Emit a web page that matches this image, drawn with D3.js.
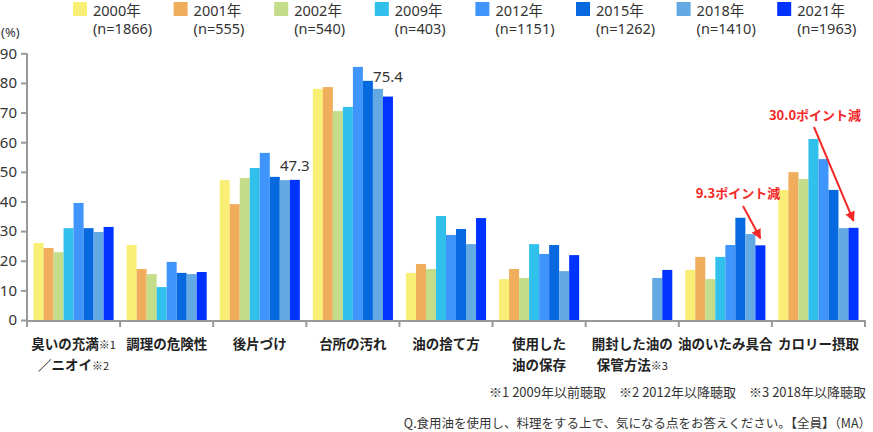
<!DOCTYPE html>
<html><head><meta charset="utf-8">
<script src="https://cdn.jsdelivr.net/npm/d3@7"></script>
<style>
html,body{margin:0;padding:0;background:#fff;}
svg{display:block;font-family:"Noto Sans CJK JP","Noto Sans",sans-serif;}
</style></head>
<body>
<svg id="chart" width="873" height="432"></svg>
<script>
// ---- data ----
const categories = ["臭いの充満", "調理の危険性", "後片づけ", "台所の汚れ", "油の捨て方", "使用した油の保存", "開封した油の保管方法", "油のいたみ具合", "カロリー摂取"];
const labelLine1 = [["臭いの充満","※1"],["調理の危険性",""],["後片づけ",""],["台所の汚れ",""],["油の捨て方",""],["使用した",""],["開封した油の",""],["油のいたみ具合",""],["カロリー摂取",""]];
const labelLine2 = [["／ニオイ","※2"],["",""],["",""],["",""],["",""],["油の保存",""],["保管方法","※3"],["",""],["",""]];
const years = ["2000年","2001年","2002年","2009年","2012年","2015年","2018年","2021年"];
const sampleSizes = ["(n=1866)","(n=555)","(n=540)","(n=403)","(n=1151)","(n=1262)","(n=1410)","(n=1963)"];
const colors = ["#f9ef77","#f0ad5b","#c4dd8a","#31bfeb","#3f95fb","#0669e0","#63a9e4","#0033ff"];
const s2000 = [26.0, 25.3, 47.2, 78.0, 15.9, 13.8, null, 16.9, 43.9];
const s2001 = [24.3, 17.2, 39.1, 78.6, 18.9, 17.2, null, 21.3, 49.9];
const s2002 = [22.9, 15.5, 47.9, 70.5, 17.2, 14.2, null, 13.8, 47.6];
const s2009 = [31.0, 11.1, 51.3, 71.9, 35.1, 25.6, null, 21.3, 61.1];
const s2012 = [39.5, 19.6, 56.4, 85.4, 28.7, 22.3, null, 25.3, 54.3];
const s2015 = [31.0, 15.9, 48.3, 80.7, 30.7, 25.3, null, 34.5, 43.9];
const s2018 = [29.7, 15.5, 47.2, 78.0, 25.6, 16.5, 14.2, 29.0, 31.0];
const s2021 = [31.4, 16.2, 47.3, 75.4, 34.4, 21.9, 16.9, 25.2, 31.1];
const series = [s2000, s2001, s2002, s2009, s2012, s2015, s2018, s2021];
const yTicks = [0,10,20,30,40,50,60,70,80,90];
const valueLabels = [{cat:2, year:7, text:"47.3", dy:-9}, {cat:3, year:7, text:"75.4", dy:-15}];
const annotations = [
  {cat:7, year:7, text:"9.3ポイント減", tx:738, ty:198, ax:743, ay:206},
  {cat:8, year:7, text:"30.0ポイント減", tx:815, ty:120, ax:814, ay:127}
];
const footnote1 = "※1 2009年以前聴取　※2 2012年以降聴取　※3 2018年以降聴取";
const footnote2 = "Q.食用油を使用し、料理をする上で、気になる点をお答えください。【全員】（MA）";

// ---- layout ----
const svg = d3.select("#chart");
const x0 = 27, x1 = 865, yBase = 320, yTop = 53.3;
const x = d3.scaleBand().domain(categories).range([x0, x1]).padding(0);
const bw = x.bandwidth();
const xi = d3.scaleBand().domain(years).range([6.5, bw - 6.5]).padding(0);
const y = d3.scaleLinear().domain([0, 90]).range([yBase, yTop]);
const textColor = "#333";
const axisColor = "#999";

// bars
const groups = svg.append("g").selectAll("g").data(categories).join("g")
  .attr("transform", c => `translate(${x(c)},0)`);
groups.each(function(c, ci) {
  const g = d3.select(this);
  years.forEach((yr, si) => {
    const v = series[si][ci];
    if (v == null) return;
    g.append("rect").attr("x", xi(yr)).attr("width", xi.bandwidth())
      .attr("y", y(v)).attr("height", yBase - y(v)).attr("fill", colors[si]);
  });
});

// y axis
const yAxis = d3.axisLeft(y).tickValues(yTicks).tickSize(6).tickPadding(4);
const ya = svg.append("g").attr("transform", `translate(${x0},0)`).call(yAxis);
ya.select(".domain").attr("stroke", axisColor).attr("stroke-width", 2).attr("d", `M0,${yTop}V${yBase + 1}`);
ya.selectAll(".tick line").attr("stroke", axisColor).attr("stroke-width", 2);
ya.selectAll(".tick text").attr("fill", textColor).style("font-size", "15px")
  .style("font-family", '"Noto Sans","Noto Sans CJK JP",sans-serif');
svg.append("text").attr("x", 1).attr("y", 37).attr("fill", textColor)
  .style("font-family", '"Noto Sans",sans-serif').style("font-size", "13px").text("(%)");

// x axis
svg.append("line").attr("x1", x0 - 1).attr("x2", x1 + 1).attr("y1", yBase + 1).attr("y2", yBase + 1)
  .attr("stroke", axisColor).attr("stroke-width", 2);
const bounds = categories.map(c => x(c)).concat([x(categories[categories.length - 1]) + bw]);
svg.append("g").selectAll("line").data(bounds).join("line")
  .attr("x1", d => d).attr("x2", d => d).attr("y1", yBase + 1).attr("y2", yBase + 7)
  .attr("stroke", axisColor).attr("stroke-width", 2);

// category labels
function addLabel(parts, cx, by) {
  if (!parts[0] && !parts[1]) return;
  const t = svg.append("text").attr("x", cx).attr("y", by).attr("text-anchor", "middle")
    .attr("fill", "#222").style("font-size", "13.5px").style("font-weight", "bold");
  t.append("tspan").text(parts[0]);
  if (parts[1]) t.append("tspan").style("font-size", "11px").style("font-weight", "normal").text(parts[1]);
}
categories.forEach((c, i) => {
  const cx = x(c) + bw / 2;
  addLabel(labelLine1[i], cx, 349);
  addLabel(labelLine2[i], cx, 370);
});

// legend
const lg = svg.append("g").selectAll("g").data(years).join("g")
  .attr("transform", (d, i) => `translate(${73 + i * 100.6},0)`);
lg.append("rect").attr("x", 0).attr("y", 2).attr("width", 14).attr("height", 14)
  .attr("fill", (d, i) => colors[i]);
lg.append("text").attr("x", 20).attr("y", 15.5).attr("fill", textColor)
  .style("font-family", '"Noto Sans","Noto Sans CJK JP",sans-serif')
  .style("font-size", "14.5px").text(d => d);
lg.append("text").attr("x", 20).attr("y", 34).attr("fill", textColor)
  .style("font-family", '"Noto Sans","Noto Sans CJK JP",sans-serif')
  .style("font-size", "14.5px").text((d, i) => sampleSizes[i]);

// value labels
valueLabels.forEach(l => {
  const c = categories[l.cat];
  const v = series[l.year][l.cat];
  svg.append("text").attr("x", x(c) + xi(years[l.year]) + xi.bandwidth() / 2)
    .attr("y", y(v) + l.dy).attr("text-anchor", "middle").attr("fill", textColor)
    .style("font-family", '"Noto Sans",sans-serif')
    .style("font-size", "15px").text(l.text);
});

// annotations
const defs = svg.append("defs");
defs.append("marker").attr("id", "arrow").attr("viewBox", "0 0 10 10").attr("refX", 9).attr("refY", 5)
  .attr("markerWidth", 5).attr("markerHeight", 5).attr("orient", "auto")
  .append("path").attr("d", "M0,0L10,5L0,10z").attr("fill", "#f42828");
annotations.forEach(a => {
  const c = categories[a.cat];
  const v = series[a.year][a.cat];
  const ex = x(c) + xi(years[a.year]) + xi.bandwidth() / 2;
  const ey = y(v) - 7;
  svg.append("text").attr("x", a.tx).attr("y", a.ty).attr("text-anchor", "middle")
    .attr("fill", "#f42828").style("font-size", "13px").style("font-weight", "bold").text(a.text);
  svg.append("line").attr("x1", a.ax).attr("y1", a.ay).attr("x2", ex).attr("y2", ey)
    .attr("stroke", "#f42828").attr("stroke-width", 2).attr("marker-end", "url(#arrow)");
});

// footnotes
svg.append("text").attr("x", 866).attr("y", 397).attr("text-anchor", "end").attr("fill", textColor)
  .style("font-size", "13px").text(footnote1);
svg.append("text").attr("x", 871).attr("y", 428).attr("text-anchor", "end").attr("fill", textColor)
  .style("font-size", "12.5px").text(footnote2);
</script>
</body></html>
